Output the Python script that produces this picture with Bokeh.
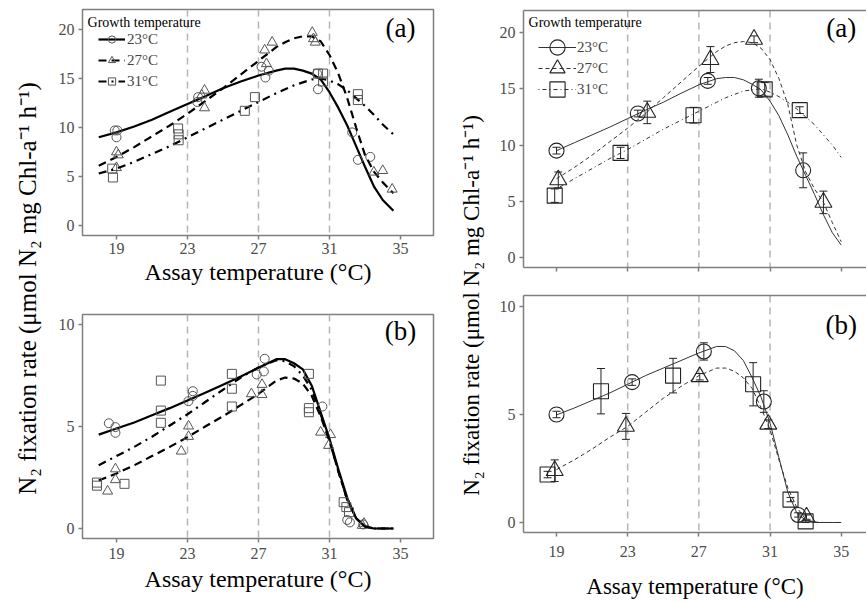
import math
from bokeh.plotting import figure
from bokeh.models import (ColumnDataSource, Span, Label, Legend, LegendItem,
                          Whisker, TeeHead, Range1d, FixedTicker, LinearAxis)
from bokeh.layouts import row, column
from bokeh.embed import file_html
from bokeh.resources import INLINE

SERIF = "Liberation Serif"
GRAY = "#7f7f7f"
TICK_TXT = "#4d4d4d"

# ---------------- data ----------------
X_TICKS = [19, 23, 27, 31, 35]
YA_TICKS = [0, 5, 10, 15, 20]
YB_TICKS = [0, 5, 10]
REF_TEMPS = [23, 27, 31]
GROUPS = ["23°C", "27°C", "31°C"]
X_LABEL = "Assay temperature (°C)"
Y_LABEL = "N₂ fixation rate (μmol N₂ mg Chl-a⁻¹ h⁻¹)"

# left (a): raw replicates
a23_T = [18.9, 19.05, 19.0, 23.55, 23.6, 27.17, 27.39, 27.58, 30.3, 30.35, 32.28, 32.6, 33.3]
a23_v = [9.7, 9.7, 9.0, 12.6, 13.1, 16.2, 15.1, 15.8, 15.5, 13.9, 9.5, 6.7, 7.0]
a27_T = [19.0, 19.0, 19.1, 23.96, 23.96, 23.8, 27.35, 27.45, 27.77, 30.03, 30.1, 30.2, 33.5, 34.0, 34.53]
a27_v = [7.5, 5.9, 7.2, 13.8, 12.0, 13.3, 17.9, 16.5, 18.7, 19.7, 19.05, 18.7, 5.44, 5.6, 3.7]
a31_T = [18.76, 18.8, 22.47, 22.5, 22.5, 26.23, 26.8, 30.35, 30.64, 30.64, 32.6, 32.6]
a31_v = [5.8, 4.9, 9.9, 9.3, 8.7, 11.7, 13.1, 15.5, 15.5, 14.7, 13.4, 12.8]

# left (b): raw replicates
b23_T = [18.57, 18.94, 18.94, 23.05, 23.3, 23.3, 26.9, 27.3, 27.35, 30.6, 32.0, 32.15, 32.9]
b23_v = [5.16, 4.97, 4.69, 6.24, 6.73, 6.5, 7.55, 7.7, 8.32, 5.98, 0.42, 0.3, 0.2]
b27_T = [18.5, 18.94, 18.94, 22.65, 23.06, 23.06, 26.6, 27.2, 27.2, 30.5, 31.06, 30.95, 32.85, 32.95]
b27_v = [1.83, 2.92, 2.39, 3.79, 5.02, 4.51, 6.6, 7.06, 6.56, 4.72, 4.6, 4.07, 0.15, 0.25]
b31_T = [17.9, 17.9, 19.45, 21.5, 21.5, 21.5, 25.5, 25.5, 25.5, 29.84, 29.84, 29.84, 31.8, 31.95, 32.1]
b31_v = [2.25, 2.1, 2.19, 7.25, 5.78, 5.18, 7.58, 6.85, 5.98, 7.58, 5.9, 5.7, 1.29, 1.05, 0.8]

# left fitted curves
CT_L = [18, 19, 20, 21, 22, 23, 24, 25, 26, 27, 28, 28.5, 29, 29.5, 30, 30.5, 31, 31.5, 32, 32.5, 33, 33.5, 34, 34.6]
fa23 = [9.0, 9.5, 10.1, 10.8, 11.6, 12.4, 13.2, 14.0, 14.7, 15.3, 15.8, 16.0, 16.0, 15.8, 15.5, 14.9, 13.6, 12.0, 10.2, 8.1, 6.0, 4.0, 2.6, 1.5]
fa27 = [6.1, 7.0, 8.0, 9.1, 10.2, 11.4, 12.7, 14.0, 15.4, 16.8, 18.2, 18.7, 19.1, 19.3, 19.3, 18.8, 17.4, 15.5, 13.0, 10.0, 7.2, 5.5, 4.4, 3.3]
fa31 = [5.3, 5.8, 6.5, 7.3, 8.1, 9.0, 9.9, 10.8, 11.7, 12.6, 13.5, 13.9, 14.3, 14.6, 14.9, 15.0, 14.8, 14.4, 13.8, 13.0, 12.2, 11.3, 10.3, 9.3]
fb23 = [4.6, 4.9, 5.2, 5.55, 5.9, 6.27, 6.65, 7.05, 7.45, 7.88, 8.3, 8.3, 8.1, 7.8, 7.0, 5.7, 4.4, 2.9, 1.5, 0.5, 0.1, 0.0, 0.0, 0.0]
fb27 = [2.35, 2.7, 3.1, 3.55, 4.0, 4.48, 5.0, 5.5, 6.05, 6.6, 7.25, 7.4, 7.35, 7.1, 6.5, 5.5, 4.3, 2.8, 1.4, 0.5, 0.1, 0.0, 0.0, 0.0]
fb31 = [3.1, 3.55, 4.0, 4.5, 5.05, 5.6, 6.2, 6.8, 7.4, 7.9, 8.25, 8.2, 7.95, 7.5, 6.8, 5.6, 4.3, 2.8, 1.4, 0.5, 0.1, 0.0, 0.0, 0.0]

# right (a): means and errors
ra23_T = [19.0, 23.57, 27.5, 30.37, 32.86]
ra23_v = [9.5, 12.8, 15.7, 15.05, 7.75]
ra23_e = [0.3, 0.3, 0.3, 0.8, 1.55]
ra27_T = [19.1, 24.1, 27.65, 30.1, 34.0]
ra27_v = [6.9, 12.9, 17.6, 19.4, 4.9]
ra27_e = [0.7, 1.0, 1.15, 0.3, 1.0]
ra31_T = [18.9, 22.6, 26.7, 30.7, 32.67]
ra31_v = [5.5, 9.3, 12.65, 14.95, 13.1]
ra31_e = [0.6, 0.5, 0.7, 0.6, 0.3]

# right (b): means and errors
rb23_T = [19.0, 23.25, 27.28, 30.65, 32.58]
rb23_v = [5.0, 6.5, 7.92, 5.6, 0.35]
rb23_e = [0.15, 0.15, 0.4, 0.5, 0.1]
rb27_T = [18.9, 22.9, 27.05, 30.9, 33.05]
rb27_v = [2.4, 4.45, 6.75, 4.55, 0.25]
rb27_e = [0.5, 0.6, 0.15, 0.2, 0.1]
rb31_T = [18.5, 21.5, 25.55, 30.05, 32.15, 33.0]
rb31_v = [2.22, 6.08, 6.8, 6.4, 1.06, 0.05]
rb31_e = [0.15, 1.05, 0.8, 1.0, 0.1, 0.05]

# right fitted curves
CT_R = [19, 20, 21, 22, 23, 24, 25, 26, 27, 28, 28.5, 29, 29.5, 30, 30.5, 31, 31.5, 32, 32.5, 33, 33.5, 34, 34.5, 35]
ga23 = [9.5, 10.2, 10.9, 11.6, 12.35, 13.1, 13.8, 14.6, 15.35, 15.9, 16.0, 16.0, 15.8, 15.4, 14.9, 13.9, 12.6, 10.9, 9.0, 7.3, 5.6, 3.8, 2.2, 1.1]
ga27 = [7.0, 8.0, 9.1, 10.3, 11.5, 12.8, 14.2, 15.6, 17.0, 18.3, 18.8, 19.1, 19.2, 19.1, 18.6, 17.6, 15.9, 13.6, 10.0, 7.6, 6.1, 4.9, 3.1, 1.4]
ga31 = [6.1, 7.0, 7.9, 8.8, 9.6, 10.5, 11.4, 12.2, 13.0, 13.8, 14.2, 14.5, 14.8, 14.9, 15.0, 14.7, 14.3, 13.8, 13.2, 12.5, 11.8, 10.9, 10.0, 8.9]
gb23 = [4.98, 5.3, 5.65, 6.0, 6.4, 6.8, 7.15, 7.5, 7.85, 8.15, 8.15, 7.95, 7.5, 6.7, 5.8, 4.6, 3.0, 1.4, 0.45, 0.1, 0.0, 0.0, 0.0, 0.0]
gb27 = [2.45, 2.9, 3.4, 3.95, 4.45, 5.1, 5.75, 6.3, 6.8, 7.15, 7.15, 7.0, 6.7, 6.2, 5.3, 4.3, 2.9, 1.6, 0.7, 0.15, 0.02, 0.0, 0.0, 0.0]

MARKERS = ["circle", "triangle", "square"]


# ---------------- helpers ----------------
def panel(w, h, xr, yr, yticks, mb, framed=True, xlabels=True, xlabel=None,
          lab_standoff=3, axl_standoff=2, xlab_size="24px"):
    p = figure(width=w, height=h, x_range=Range1d(*xr), y_range=Range1d(*yr),
               output_backend="svg", toolbar_location=None,
               min_border_left=mb[0], min_border_right=mb[1],
               min_border_top=mb[2], min_border_bottom=mb[3])
    p.grid.visible = False
    xa = p.below[0]
    ya = p.left[0]
    xa.ticker = FixedTicker(ticks=X_TICKS)
    ya.ticker = FixedTicker(ticks=yticks)
    for ax in (xa, ya):
        ax.axis_line_color = None if framed else GRAY
        ax.axis_line_width = 1.5
        ax.major_tick_line_color = GRAY
        ax.major_tick_line_width = 1.5
        ax.major_tick_out = 4
        ax.major_tick_in = 0
        ax.minor_tick_out = 0
        ax.minor_tick_in = 0
        ax.major_label_text_font = SERIF
        ax.major_label_text_font_size = "16px"
        ax.major_label_text_color = TICK_TXT
    ya.major_label_standoff = 4
    if xlabels:
        xa.major_label_standoff = lab_standoff
    else:
        xa.major_label_overrides = {t: "" for t in X_TICKS}
        xa.major_label_standoff = 0
    if xlabel:
        xa.axis_label = xlabel
        xa.axis_label_text_font = SERIF
        xa.axis_label_text_font_size = xlab_size
        xa.axis_label_text_font_style = "normal"
        xa.axis_label_text_color = "black"
        xa.axis_label_standoff = axl_standoff
    if framed:
        p.outline_line_color = GRAY
        p.outline_line_width = 1.5
    else:
        p.outline_line_color = None
        top = LinearAxis(ticker=FixedTicker(ticks=[]), axis_line_color=GRAY,
                         axis_line_width=1.5, major_tick_out=0, major_tick_in=0,
                         minor_tick_out=0, minor_tick_in=0, major_label_standoff=0)
        p.add_layout(top, "above")
    for t in REF_TEMPS:
        p.add_layout(Span(location=t, dimension="height", line_color="#b5b5b5",
                          line_width=1.5, line_dash="7 5", level="underlay"))
    return p


def tag(p, text, x, y, size="27px"):
    p.add_layout(Label(x=x, y=y, text=text, text_align="center", text_baseline="middle",
                       text_font=SERIF, text_font_size=size, text_color="black"))


def title(p, x, y):
    p.add_layout(Label(x=x, y=y, text="Growth temperature", text_align="left",
                       text_baseline="middle", text_font=SERIF, text_font_size="14px",
                       text_color="black"))


def ystrip(w, h, xf, yf, size):
    s = figure(width=w, height=h, x_range=Range1d(0, 1), y_range=Range1d(0, 1),
               output_backend="svg", toolbar_location=None,
               x_axis_type=None, y_axis_type=None, min_border=0)
    s.outline_line_color = None
    s.add_layout(Label(x=xf, y=yf, text=Y_LABEL, angle=math.pi / 2, text_align="center",
                       text_baseline="middle", text_font=SERIF, text_font_size=size,
                       text_color="black"))
    return s


L_DASH = ["solid", "8 5", "8 5 2 5"]
R_DASH = ["solid", "4 3", "1 3 4 3"]

# ---------------- left (a) ----------------
XR_L = (17.085, 36.86)
pa = panel(405, 300, XR_L, (-1.02, 22.04), YA_TICKS, (34, 20, 9, 65),
           xlabel=X_LABEL, lab_standoff=3, axl_standoff=2)
items = []
for fc, Tn, vn, dash, mk in zip([fa23, fa27, fa31], [a23_T, a27_T, a31_T],
                                [a23_v, a27_v, a31_v], L_DASH, MARKERS):
    lr = pa.line(CT_L, fc, line_color="black", line_width=2.2, line_dash=dash)
    sr = pa.scatter(Tn, vn, marker=mk, size=10 if mk == "triangle" else 9,
                    fill_color=None, line_color="#555555", line_width=1)
    items.append((lr, sr))
leg = Legend(items=[LegendItem(label=g, renderers=[lr, sr]) for g, (lr, sr) in zip(GROUPS, items)],
             location=(16, 145), glyph_width=27, glyph_height=18, label_height=18,
             spacing=3, padding=0, margin=0, label_standoff=2,
             label_text_font=SERIF, label_text_font_size="15px",
             background_fill_alpha=0, border_line_color=None)
pa.add_layout(leg)
title(pa, 17.37, 20.71)
tag(pa, "(a)", 35, 20.15)

# ---------------- left (b) ----------------
pb = panel(405, 302, XR_L, (-0.49, 10.49), YB_TICKS, (34, 20, 14, 64),
           xlabel=X_LABEL, lab_standoff=5, axl_standoff=4)
for fc, Tn, vn, dash, mk in zip([fb23, fb27, fb31], [b23_T, b27_T, b31_T],
                                [b23_v, b27_v, b31_v], L_DASH, MARKERS):
    pb.line(CT_L, fc, line_color="black", line_width=2.2, line_dash=dash)
    pb.scatter(Tn, vn, marker=mk, size=10 if mk == "triangle" else 9,
               fill_color=None, line_color="#555555", line_width=1)
tag(pb, "(b)", 35, 9.7)


def means(p, T, v, e, mk):
    src = ColumnDataSource(dict(base=T, lower=[a - b for a, b in zip(v, e)],
                                upper=[a + b for a, b in zip(v, e)]))
    p.add_layout(Whisker(source=src, base="base", lower="lower", upper="upper",
                         dimension="height", line_color="#222222", line_width=1,
                         upper_head=TeeHead(size=8, line_color="#222222", line_width=1),
                         lower_head=TeeHead(size=8, line_color="#222222", line_width=1)))
    return p.scatter(T, v, marker=mk, size=17 if mk == "triangle" else 15,
                     fill_color=None, line_color="#222222", line_width=1.1)


# ---------------- right (a) ----------------
XR_R = (17.146, 36.42)
pc = panel(377, 290, XR_R, (-0.89, 21.96), YA_TICKS, (34, 0, 10, 23),
           framed=False, xlabels=False)
items = []
for fc, Tn, vn, en, dash, mk in zip([ga23, ga27, ga31], [ra23_T, ra27_T, ra31_T],
                                    [ra23_v, ra27_v, ra31_v], [ra23_e, ra27_e, ra31_e],
                                    R_DASH, MARKERS):
    lr = pc.line(CT_R, fc, line_color="#333333", line_width=1, line_dash=dash)
    sr = means(pc, Tn, vn, en, mk)
    items.append((lr, sr))
# one single-entry legend per group, so that the key markers can be large
for (g, (lr, sr)), vy in zip(zip(GROUPS, items), [200, 179, 158]):
    pc.add_layout(Legend(items=[LegendItem(label=g, renderers=[lr, sr])],
                         location=(15, vy), glyph_width=38, glyph_height=40, label_height=40,
                         spacing=0, padding=0, margin=0, label_standoff=1,
                         label_text_font=SERIF, label_text_font_size="15px",
                         background_fill_alpha=0, border_line_color=None))
title(pc, 17.43, 20.89)
tag(pc, "(a)", 35, 20.4)

# ---------------- right (b) ----------------
pd = panel(377, 312, XR_R, (-0.463, 10.51), YB_TICKS, (34, 0, 5, 70),
           framed=False, xlabel=X_LABEL, lab_standoff=9, axl_standoff=14, xlab_size="23px")
for fc, dash in zip([gb23, gb27], R_DASH[:2]):
    pd.line(CT_R, fc, line_color="#333333", line_width=1, line_dash=dash)
for Tn, vn, en, mk in zip([rb23_T, rb27_T, rb31_T], [rb23_v, rb27_v, rb31_v],
                          [rb23_e, rb27_e, rb31_e], MARKERS):
    means(pd, Tn, vn, en, mk)
tag(pd, "(b)", 35, 9.14)

# ---------------- y label strips ----------------
sl = ystrip(48, 602, 0.5625, 1 - 288 / 602, "25px")
sr_ = ystrip(36, 602, 0.5, 1 - 305 / 602, "23px")

layout = row(sl, column(pa, pb), sr_, column(pc, pd))
open("out.html", "w").write(file_html(layout, INLINE, title="N2 fixation"))
